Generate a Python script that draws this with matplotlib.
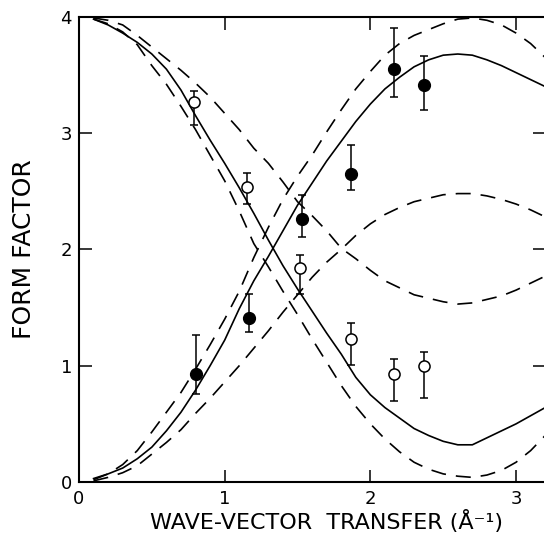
import matplotlib
matplotlib.use("Agg")
import matplotlib.pyplot as plt

# wave-vector grid (1/A) used for reading the theory curves off the figure
q = [0.1, 0.2, 0.3, 0.4, 0.5, 0.6, 0.7, 0.8, 0.9, 1.0, 1.1, 1.2, 1.3, 1.4, 1.5, 1.6,
     1.7, 1.8, 1.9, 2.0, 2.1, 2.2, 2.3, 2.4, 2.5, 2.6, 2.7, 2.8, 2.9, 3.0, 3.1, 3.2]

# solid curves
solid_dn = [3.98, 3.93, 3.86, 3.78, 3.68, 3.55, 3.37, 3.15, 2.94, 2.74, 2.53, 2.31, 2.08, 1.86, 1.66, 1.47,
            1.28, 1.10, 0.90, 0.75, 0.64, 0.55, 0.46, 0.40, 0.35, 0.32, 0.32, 0.38, 0.44, 0.50, 0.57, 0.64]
solid_up = [0.03, 0.07, 0.12, 0.20, 0.30, 0.44, 0.60, 0.79, 1.00, 1.22, 1.49, 1.73, 1.94, 2.16, 2.38, 2.57,
            2.76, 2.93, 3.10, 3.25, 3.38, 3.48, 3.57, 3.63, 3.67, 3.68, 3.67, 3.63, 3.58, 3.52, 3.46, 3.40]

# inner dashed pair
inner_dn = [3.98, 3.94, 3.87, 3.76, 3.58, 3.42, 3.23, 3.03, 2.81, 2.59, 2.33, 2.05, 1.85, 1.64, 1.44, 1.23,
            1.03, 0.83, 0.65, 0.50, 0.37, 0.26, 0.17, 0.11, 0.07, 0.05, 0.04, 0.06, 0.10, 0.17, 0.27, 0.40]
inner_up = [0.02, 0.07, 0.15, 0.27, 0.43, 0.60, 0.77, 0.97, 1.18, 1.40, 1.64, 1.93, 2.19, 2.43, 2.63, 2.81,
            3.01, 3.20, 3.38, 3.53, 3.67, 3.77, 3.84, 3.89, 3.94, 3.98, 3.99, 3.97, 3.93, 3.86, 3.77, 3.65]

# outer dashed pair
outer_dn = [3.99, 3.97, 3.93, 3.84, 3.74, 3.64, 3.54, 3.43, 3.31, 3.17, 3.03, 2.87, 2.74, 2.58, 2.41, 2.29,
            2.16, 2.01, 1.92, 1.82, 1.73, 1.67, 1.61, 1.58, 1.55, 1.53, 1.54, 1.57, 1.60, 1.65, 1.71, 1.77]
outer_up = [0.01, 0.04, 0.08, 0.14, 0.24, 0.34, 0.45, 0.59, 0.72, 0.86, 1.00, 1.15, 1.30, 1.46, 1.61, 1.76,
            1.89, 2.00, 2.12, 2.22, 2.30, 2.36, 2.41, 2.44, 2.47, 2.48, 2.48, 2.46, 2.43, 2.39, 2.34, 2.28]

# measured points
q_open = [0.79, 1.155, 1.52, 1.87, 2.165, 2.37]
f_open = [3.27, 2.54, 1.84, 1.23, 0.93, 1.00]
lo_open = [3.07, 2.39, 1.62, 1.01, 0.70, 0.72]
hi_open = [3.36, 2.66, 1.95, 1.37, 1.06, 1.12]

q_full = [0.80, 1.17, 1.53, 1.87, 2.165, 2.37]
f_full = [0.93, 1.41, 2.26, 2.645, 3.555, 3.41]
lo_full = [0.76, 1.29, 2.11, 2.51, 3.31, 3.20]
hi_full = [1.26, 1.62, 2.47, 2.90, 3.90, 3.66]

fig = plt.figure(figsize=(5.44, 5.49), dpi=100)
ax = fig.add_axes([0.1452, 0.122, 0.857, 0.8474])

dash = dict(color='k', lw=1.2, ls=(0, (9, 6)))
ax.plot(q, solid_dn, color='k', lw=1.2)
ax.plot(q, solid_up, color='k', lw=1.2)
ax.plot(q, inner_dn, **dash)
ax.plot(q, inner_up, **dash)
ax.plot(q, outer_dn, **dash)
ax.plot(q, outer_up, **dash)

err_open = [[f - l for f, l in zip(f_open, lo_open)], [h - f for f, h in zip(f_open, hi_open)]]
err_full = [[f - l for f, l in zip(f_full, lo_full)], [h - f for f, h in zip(f_full, hi_full)]]
ax.errorbar(q_open, f_open, yerr=err_open, fmt='o', ms=8, mfc='white', mec='k', mew=1.1,
            ecolor='k', elinewidth=1.1, capsize=3, capthick=1.1, zorder=5)
ax.errorbar(q_full, f_full, yerr=err_full, fmt='o', ms=8.5, mfc='k', mec='k',
            ecolor='k', elinewidth=1.1, capsize=3, capthick=1.1, zorder=5)

ax.set_xlim(0, 3.2)
ax.set_ylim(0, 4)
ax.set_xticks([0, 1, 2, 3])
ax.set_yticks([0, 1, 2, 3, 4])
ax.spines['right'].set_visible(False)
for s in ['left', 'bottom', 'top']:
    ax.spines[s].set_linewidth(1.5)
ax.tick_params(direction='in', length=9, width=1.1, top=True, right=True, labelsize=13)
ax.tick_params(axis='x', pad=6)
ax.tick_params(axis='y', pad=5)

ax.set_xlabel('WAVE-VECTOR  TRANSFER (Å⁻¹)', fontsize=16, labelpad=1, x=0.53)
ax.set_ylabel('FORM FACTOR', fontsize=18, labelpad=18)

fig.savefig('out.png', dpi=100)
